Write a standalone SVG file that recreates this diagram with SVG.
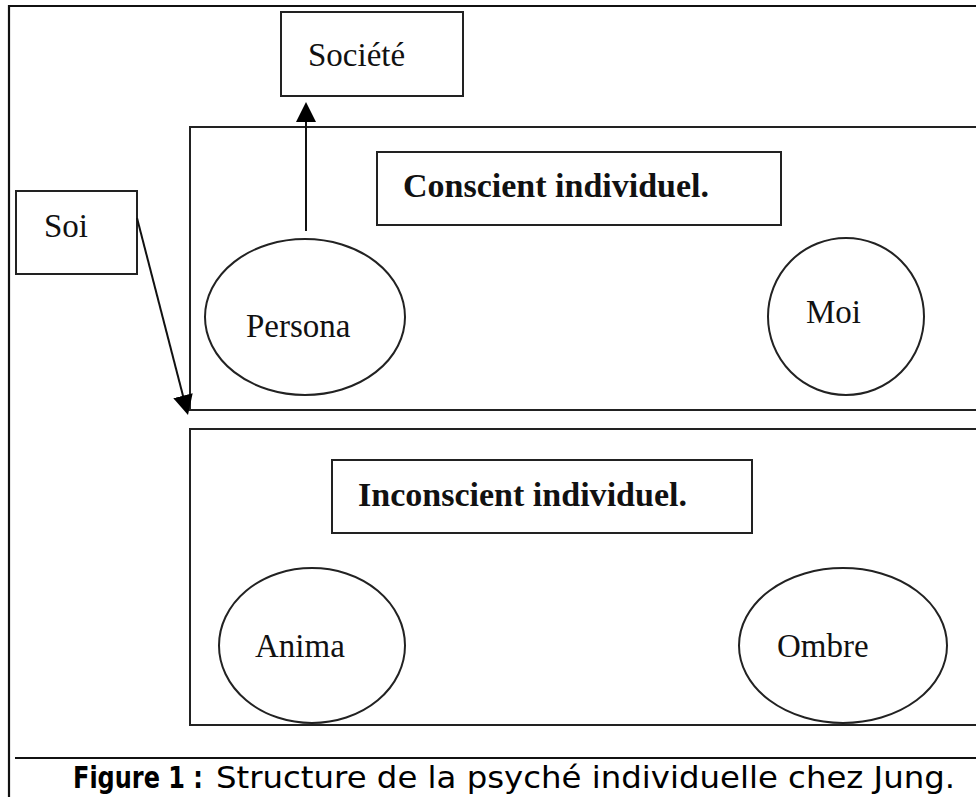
<svg xmlns="http://www.w3.org/2000/svg" width="976" height="797" viewBox="0 0 976 797">
<defs>
<style>
.box{fill:#fff;stroke:#222;stroke-width:2}
.frame{fill:none;stroke:#111;stroke-width:2.2}
.conn{fill:none;stroke:#111;stroke-width:2}
.t{font-family:"Liberation Serif","Times New Roman",serif;font-size:33px;fill:#111}
.tb{font-family:"Liberation Serif","Times New Roman",serif;font-size:34px;font-weight:bold;fill:#111}
.cap{font-family:"DejaVu Sans",sans-serif;font-size:30px;fill:#000}
.capb{font-family:"DejaVu Sans",sans-serif;font-size:24px;font-weight:bold;fill:#000}
</style>
<marker id="ah" viewBox="0 0 20 20" markerUnits="userSpaceOnUse" markerWidth="20" markerHeight="20" refX="14" refY="10" orient="auto">
<path d="M0,0 L20,10 L0,20 z" fill="#000"/>
</marker>
</defs>
<rect width="976" height="797" fill="#fff"/>
<g id="frame">
<path class="frame" d="M9,797 V6 H976"/>
<path class="frame" d="M15,758 H976"/>
</g>
<g id="conscient">
<path class="box" d="M976,127 H190 V410 H976"/>
</g>
<g id="inconscient">
<path class="box" d="M976,429 H190 V725 H976"/>
</g>
<g id="societe">
<rect class="box" x="281" y="12" width="182" height="84"/>
<text class="t" x="308" y="66">Société</text>
</g>
<g id="soi">
<rect class="box" x="16" y="191" width="121" height="83"/>
<text class="t" x="44" y="237">Soi</text>
</g>
<g id="conscient-label">
<rect class="box" x="377" y="152" width="404" height="73"/>
<text class="tb" x="403" y="197">Conscient individuel.</text>
</g>
<g id="inconscient-label">
<rect class="box" x="332" y="460" width="420" height="73"/>
<text class="tb" x="358" y="506" textLength="329" lengthAdjust="spacingAndGlyphs">Inconscient individuel.</text>
</g>
<g id="persona">
<ellipse class="box" cx="305" cy="317" rx="100" ry="78"/>
<text class="t" x="246" y="337">Persona</text>
</g>
<g id="moi">
<ellipse class="box" cx="846" cy="316.5" rx="78" ry="78.5"/>
<text class="t" x="806" y="323">Moi</text>
</g>
<g id="anima">
<ellipse class="box" cx="312" cy="645.5" rx="93" ry="77.5"/>
<text class="t" x="255" y="657">Anima</text>
</g>
<g id="ombre">
<ellipse class="box" cx="843" cy="645.5" rx="104" ry="77.5"/>
<text class="t" x="777" y="657">Ombre</text>
</g>
<g id="connectors">
<line class="conn" x1="306" y1="231" x2="306" y2="108" marker-end="url(#ah)"/>
<line class="conn" x1="137" y1="218" x2="186.5" y2="409.2" marker-end="url(#ah)"/>
</g>
<g id="caption">
<text class="capb" x="0" y="0" transform="translate(73,788) scale(1,1.25)">Figure 1 :</text>
<text class="cap" x="216" y="788" textLength="739" lengthAdjust="spacingAndGlyphs">Structure de la psyché individuelle chez Jung.</text>
</g>
</svg>
